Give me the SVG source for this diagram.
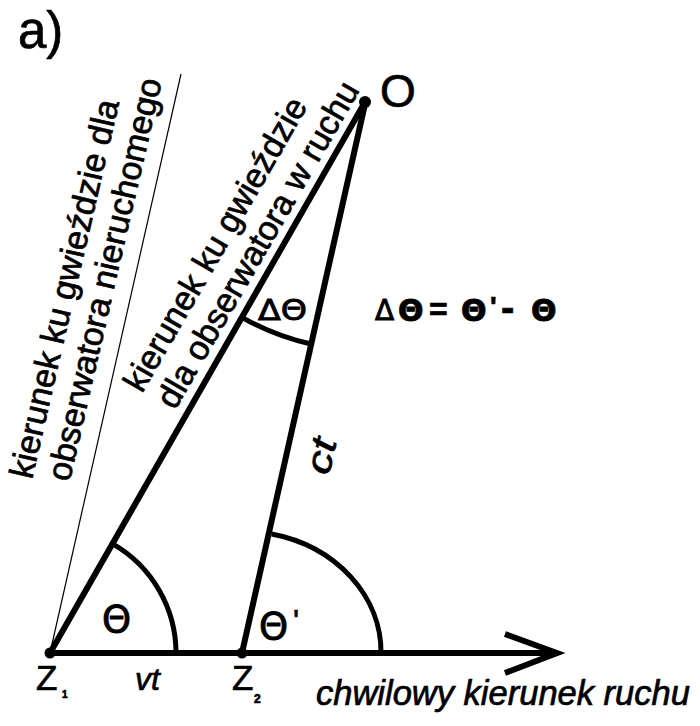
<svg xmlns="http://www.w3.org/2000/svg" width="700" height="726" viewBox="0 0 700 726">
<style>
.t{font-family:"Liberation Sans",Arial,sans-serif;fill:#000;stroke:#000;stroke-width:0.7}
.g{font-family:"DejaVu Sans","Liberation Sans",sans-serif;fill:#000;stroke:#000;stroke-width:0.9}
.it{font-style:italic}
.b{font-weight:bold}
.thick{stroke:#000;stroke-width:6;fill:none;stroke-linecap:butt}
.arc{stroke:#000;stroke-width:5;fill:none}
.thin{stroke:#000;stroke-width:1.2;fill:none}
</style>
<rect width="700" height="726" fill="#fff"/>
<text class="t" x="18" y="48" font-size="51">a)</text>

<g id="connectors">
  <line class="thin" x1="50" y1="653" x2="181" y2="74"/>
  <line class="thick" x1="50" y1="653" x2="365" y2="102"/>
  <line class="thick" x1="242" y1="653" x2="365" y2="104"/>
  <line class="thick" x1="50" y1="653" x2="555" y2="653"/>
  <polyline class="thick" points="505,634 557,653 505,673" stroke-linejoin="miter"/>
</g>

<g id="arcs">
  <path class="arc" d="M112.7,543.8 A126,126 0 0 1 176,653"/>
  <path class="arc" d="M271.7,534 A139,121 0 0 1 381,653"/>
  <path class="arc" d="M241.9,317.3 A248,248 0 0 0 311,344"/>
</g>

<g id="O">
  <circle cx="365" cy="102" r="6" fill="#000"/>
  <text class="t" x="380" y="107" font-size="46">O</text>
</g>
<g id="Z1">
  <circle cx="50" cy="653" r="5.5" fill="#000"/>
  <text class="t" x="36" y="690" font-size="35">Z</text>
  <text class="t b" x="62" y="698" font-size="10">1</text>
</g>
<g id="Z2">
  <circle cx="242" cy="653" r="5.5" fill="#000"/>
  <text class="t" x="232" y="690" font-size="35">Z</text>
  <text class="t b" x="254" y="703" font-size="12">2</text>
</g>

<g id="labels">
  <text class="g" x="102" y="632" font-size="37">Θ</text>
  <text class="g" x="259" y="639" font-size="37">Θ</text>
  <text class="t" x="293" y="632" font-size="32">'</text>
  <text class="g" x="258" y="320" font-size="29" textLength="49" lengthAdjust="spacingAndGlyphs">ΔΘ</text>
  <text class="t it" x="135" y="690" font-size="32">vt</text>
  <text class="t it" x="316" y="705" font-size="34.5">chwilowy kierunek ruchu</text>
  <text class="t it" transform="translate(329,476) rotate(-77.5)" x="0" y="0" font-size="36" textLength="36" lengthAdjust="spacingAndGlyphs">ct</text>
  <g id="formula">
    <text class="g" x="375" y="320" font-size="28">Δ</text>
    <text class="g b" x="398" y="321" font-size="30">Θ</text>
    <text class="t b" x="429" y="320" font-size="32">=</text>
    <text class="g b" x="461" y="321" font-size="30">Θ</text>
    <text class="t b" x="490" y="316" font-size="28">'</text>
    <text class="t b" x="501" y="321" font-size="40">-</text>
    <text class="g b" x="531" y="321" font-size="30">Θ</text>
  </g>
  <text class="t" transform="translate(32,480) rotate(-77)" font-size="34">
    <tspan x="0" y="0">kierunek ku gwieździe dla</tspan>
    <tspan x="6" y="37">obserwatora nieruchomego</tspan>
  </text>
  <text class="t" transform="translate(142,394) rotate(-60)" font-size="34">
    <tspan x="0" y="0">kierunek ku gwieździe</tspan>
    <tspan x="2" y="37">dla obserwatora w ruchu</tspan>
  </text>
</g>
</svg>
